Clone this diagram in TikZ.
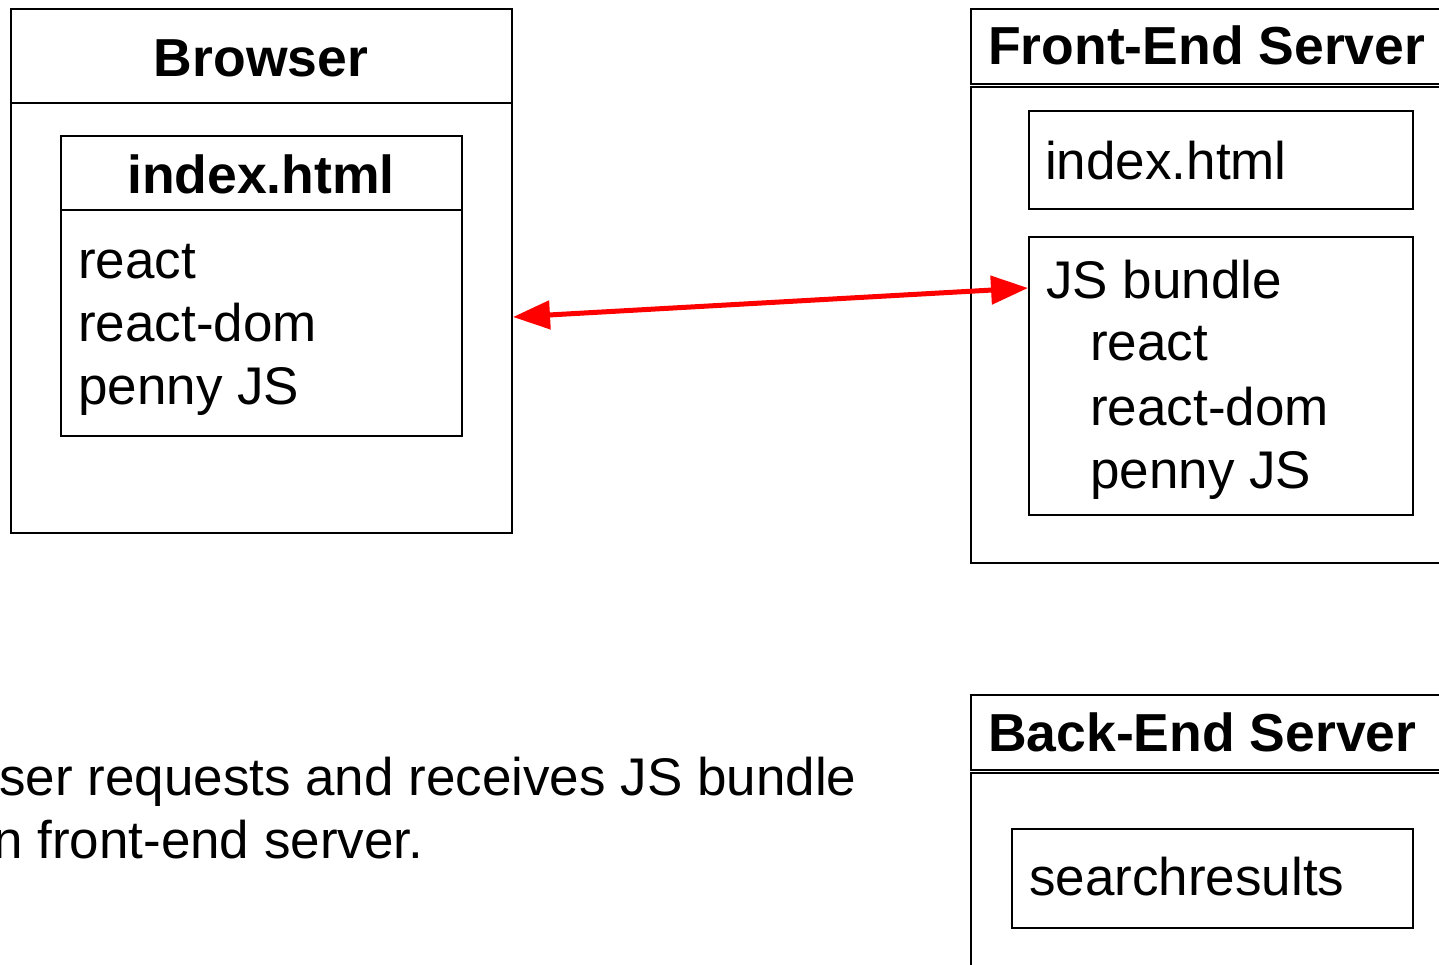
\documentclass[tikz,border=0pt]{standalone}
\usepackage{fontspec}
\setmainfont{Liberation Sans}
\usetikzlibrary{arrows.meta}
\tikzset{
 box/.style={draw, line width=2pt, inner sep=0, anchor=north west},
 txt/.style={inner sep=0, anchor=base west, font=\fontsize{53}{64}\selectfont},
 ttl/.style={txt, font=\fontsize{53.5}{64}\selectfont\bfseries},
 link/.style={draw=red, line width=5pt,
  {Triangle[length=37pt,width=28pt]}-{Triangle[length=37pt,width=28pt]}}
}
\begin{document}
\begin{tikzpicture}[
 x=1pt,
 y=-1pt
]
\useasboundingbox (0,0) rectangle (1439,964);
% browser
\node[box, minimum width=501pt, minimum height=524pt] (browser) at (10,8) {};
\draw[line width=2pt] (10,103) -- (511,103);
\node[ttl, anchor=base] (browsertitle) at (261,76) {Browser};
\node[box, minimum width=401pt, minimum height=300pt] (page) at (60,135) {};
\draw[line width=2pt] (60,210) -- (461,210);
\node[ttl, anchor=base] (pagetitle) at (261,193) {index.html};
\node[txt] (pagereact) at (78,278) {react};
\node[txt] (pagedom) at (78,341) {react-dom};
\node[txt] (pagepenny) at (78,404) {penny JS};
% front-end server
\node[box, minimum width=490pt, minimum height=75pt] (fehead) at (970,8) {};
\node[box, minimum width=490pt, minimum height=476pt] (febody) at (970,86) {};
\node[ttl] (fetitle) at (988,64) {Front-End Server};
\node[box, minimum width=384pt, minimum height=98pt] (feindex) at (1028,110) {};
\node[txt] (feindextext) at (1045,179) {index.html};
\node[box, minimum width=384pt, minimum height=278pt] (bundle) at (1028,236) {};
\node[txt] (bundletitle) at (1046,298) {JS bundle};
\node[txt] (bundlereact) at (1090,360) {react};
\node[txt] (bundledom) at (1090,425) {react-dom};
\node[txt] (bundlepenny) at (1090,488) {penny JS};
% back-end server
\node[box, minimum width=490pt, minimum height=75pt] (behead) at (970,694) {};
\node[box, minimum width=490pt, minimum height=220pt] (bebody) at (970,772) {};
\node[ttl] (betitle) at (988,751) {Back-End Server};
\node[box, minimum width=401pt, minimum height=99pt] (search) at (1011,828) {};
\node[txt] (searchtext) at (1029,895) {searchresults};
% caption
\node[txt] (captionone) at (-1,795) {ser requests and receives JS bundle};
\node[txt] (captiontwo) at (-7,858) {n front-end server.};
% request
\draw[link] ([yshift=-46pt]browser.east) -- ([yshift=88pt]bundle.west);
\end{tikzpicture}
\end{document}
